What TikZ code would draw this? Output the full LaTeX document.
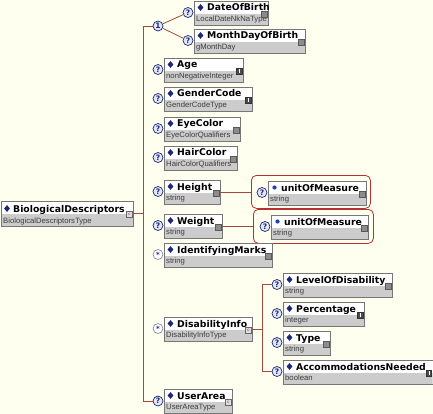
\documentclass[tikz,border=0pt]{standalone}
\usepackage{fontspec}
\setmainfont{DejaVu Sans}
\newfontfamily\subfont{Liberation Sans}
\usetikzlibrary{shapes.geometric}

\definecolor{bg}{RGB}{255,255,240}
\definecolor{connc}{RGB}{165,72,62}
\definecolor{framec}{RGB}{185,48,48}
\definecolor{boxgray}{RGB}{204,204,204}
\definecolor{boxline}{RGB}{118,118,118}
\definecolor{navy}{RGB}{28,38,118}
\definecolor{attrblue}{RGB}{30,60,190}
\definecolor{qfill}{RGB}{226,231,246}
\definecolor{subgray}{RGB}{60,60,60}

\tikzset{
  elembox/.style={draw=boxline, fill=white, inner sep=0pt, minimum height=24pt,
    path picture={\fill[boxgray] ([yshift=-13pt]path picture bounding box.north west)
      rectangle (path picture bounding box.south east);}},
  titletext/.style={font=\bfseries\fontsize{9.3}{10}\selectfont, anchor=base west, inner sep=0pt},
  subtext/.style={font=\subfont\fontsize{7.7}{9}\selectfont, text=subgray, anchor=base west, inner sep=0pt},
  elbullet/.style={diamond, fill=navy, inner sep=0pt, minimum width=6pt, minimum height=7pt},
  atbullet/.style={circle, fill=attrblue, inner sep=0pt, minimum size=4.2pt},
  iconsq/.style={rectangle, draw=black!65, fill=black!45, inner sep=0pt, minimum size=5.5pt},
  iconinfo/.style={rectangle, draw=black!80, fill=black!70, inner sep=0pt, minimum size=5.5pt,
    path picture={\draw[white, line width=0.6pt] ([yshift=-1.2pt]path picture bounding box.north)
      -- ([yshift=1pt]path picture bounding box.south);}},
  iconcx/.style={rectangle, draw=black!60, fill=black!12, inner sep=0pt, minimum size=5.5pt,
    font=\fontsize{4}{4}\selectfont, text=black!80},
  qmark/.style={circle, draw=navy, fill=qfill, line width=0.7pt, inner sep=0pt, minimum size=10pt,
    font=\bfseries\fontsize{7.5}{7.5}\selectfont, text=navy},
  manymark/.style={circle, draw=navy!60, fill=white, line width=0.6pt, inner sep=0pt, minimum size=10pt,
    font=\bfseries\fontsize{7}{7}\selectfont, text=navy},
  conn/.style={draw=connc, line width=0.8pt},
  attrframe/.style={draw=framec, line width=0.8pt, rounded corners=5pt, inner sep=0pt, anchor=north west},
}

% element box: name, x, top, width, title, type, icon style, bullet style
\newcommand\xsdelem[8]{%
  \node[elembox, minimum width=#4pt, anchor=north west] (#1) at (#2,#3) {};
  \node[#8] (#1-b) at ([xshift=6.5pt,yshift=-6.5pt]#1.north west) {};
  \node[titletext] (#1-t) at ([xshift=13pt,yshift=-10pt]#1.north west) {#5};
  \node[subtext] (#1-s) at ([xshift=2pt,yshift=-20.5pt]#1.north west) {#6};
  \node[#7] (#1-i) at ([xshift=-4pt,yshift=-13pt]#1.north east) {};
}

\begin{document}
\begin{tikzpicture}[x=1pt, y=-1pt]
\fill[bg] (0,0) rectangle (433,414);
\useasboundingbox (0,0) rectangle (433,414);

% attribute frames behind Height and Weight
\node[attrframe, minimum width=119pt, minimum height=33pt] (f1) at (251,175) {};
\node[attrframe, minimum width=120pt, minimum height=34pt] (f2) at (253,209) {};

% root element
\node[elembox, minimum width=132pt, minimum height=25pt, anchor=north west] (main) at (1,201) {};
\node[elbullet] (main-b) at ([xshift=6pt,yshift=-7.5pt]main.north west) {};
\node[titletext] (main-t) at ([xshift=12pt,yshift=-11pt]main.north west) {BiologicalDescriptors};
\node[subtext] (main-s) at ([xshift=2pt,yshift=-22pt]main.north west) {BiologicalDescriptorsType};
\node[iconcx] (main-i) at ([xshift=-4pt,yshift=-13pt]main.north east) {c};

% children
\xsdelem{dob}{194}{1}{74}{DateOfBirth}{LocalDateNkNaType}{iconsq}{elbullet}
\xsdelem{mdob}{194}{29}{111}{MonthDayOfBirth}{gMonthDay}{iconsq}{elbullet}
\xsdelem{age}{164}{58}{79}{Age}{nonNegativeInteger}{iconinfo}{elbullet}
\xsdelem{gender}{164}{87}{88}{GenderCode}{GenderCodeType}{iconinfo}{elbullet}
\xsdelem{eye}{164}{117}{76}{EyeColor}{EyeColorQualifiers}{iconsq}{elbullet}
\xsdelem{hair}{164}{146}{73}{HairColor}{HairColorQualifiers}{iconsq}{elbullet}
\xsdelem{height}{164}{180}{56}{Height}{string}{iconsq}{elbullet}
\xsdelem{weight}{164}{214}{58}{Weight}{string}{iconsq}{elbullet}
\xsdelem{idm}{164}{243}{108}{IdentifyingMarks}{string}{iconsq}{elbullet}
\xsdelem{disab}{164}{317}{88}{DisabilityInfo}{DisabilityInfoType}{iconcx}{elbullet}
\xsdelem{user}{164}{389}{68}{UserArea}{UserAreaType}{iconcx}{elbullet}
\xsdelem{lod}{283}{273}{109}{LevelOfDisability}{string}{iconsq}{elbullet}
\xsdelem{pct}{283}{302}{81}{Percentage}{integer}{iconinfo}{elbullet}
\xsdelem{type}{283}{331}{47}{Type}{string}{iconsq}{elbullet}
\xsdelem{acc}{283}{360}{149.5}{AccommodationsNeeded}{boolean}{iconinfo}{elbullet}
\xsdelem{uom1}{268}{181}{98}{unitOfMeasure}{string}{iconsq}{atbullet}
\xsdelem{uom2}{271}{215}{97}{unitOfMeasure}{string}{iconsq}{atbullet}
\node[iconcx] (disab-c) at (disab-i) {c};
\node[iconcx] (user-c) at (user-i) {c};

% occurrence markers
\node[qmark] (choice) at (158,26) {1};
\node[qmark] (q-dob) at (188,12.5) {?};
\node[qmark] (q-mdob) at (188,40.5) {?};
\node[qmark] (q-age) at (158,69.5) {?};
\node[qmark] (q-gender) at (158,98.5) {?};
\node[qmark] (q-eye) at (158,128.5) {?};
\node[qmark] (q-hair) at (158,157.5) {?};
\node[qmark] (q-height) at (158,191.5) {?};
\node[qmark] (q-weight) at (158,225.5) {?};
\node[manymark] (q-idm) at (158,254.5) {*};
\node[manymark] (q-disab) at (158,328.5) {*};
\node[qmark] (q-user) at (158,401) {?};
\node[qmark] (q-lod) at (277,284.5) {?};
\node[qmark] (q-pct) at (277,313.5) {?};
\node[qmark] (q-type) at (277,342.5) {?};
\node[qmark] (q-acc) at (277,371.5) {?};
\node[qmark] (q-uom1) at (262,192.5) {?};
\node[qmark] (q-uom2) at (265,226.5) {?};

% sequence bracket of the root
\coordinate (seqtop) at (143,26);
\coordinate (seqbot) at (143,401);
\draw[conn] (main.east) -- (main.east -| seqtop);
\draw[conn] (seqtop) -- (seqbot);
\draw[conn] (seqtop) -- (choice);
\draw[conn] (seqbot) -- (q-user);
\draw[conn] (choice) -- (q-dob);
\draw[conn] (choice) -- (q-mdob);

% attribute links
\draw[conn] (height.east) -- (height.east -| f1.west);
\draw[conn] (weight.east) -- (weight.east -| f2.west);

% sequence of DisabilityInfo
\coordinate (dtop) at (262,284.5);
\coordinate (dbot) at (262,371.5);
\draw[conn] (disab.east) -- (disab.east -| dtop);
\draw[conn] (dtop) -- (dbot);
\draw[conn] (dtop) -- (q-lod);
\draw[conn] (dbot) -- (q-acc);
\end{tikzpicture}
\end{document}
